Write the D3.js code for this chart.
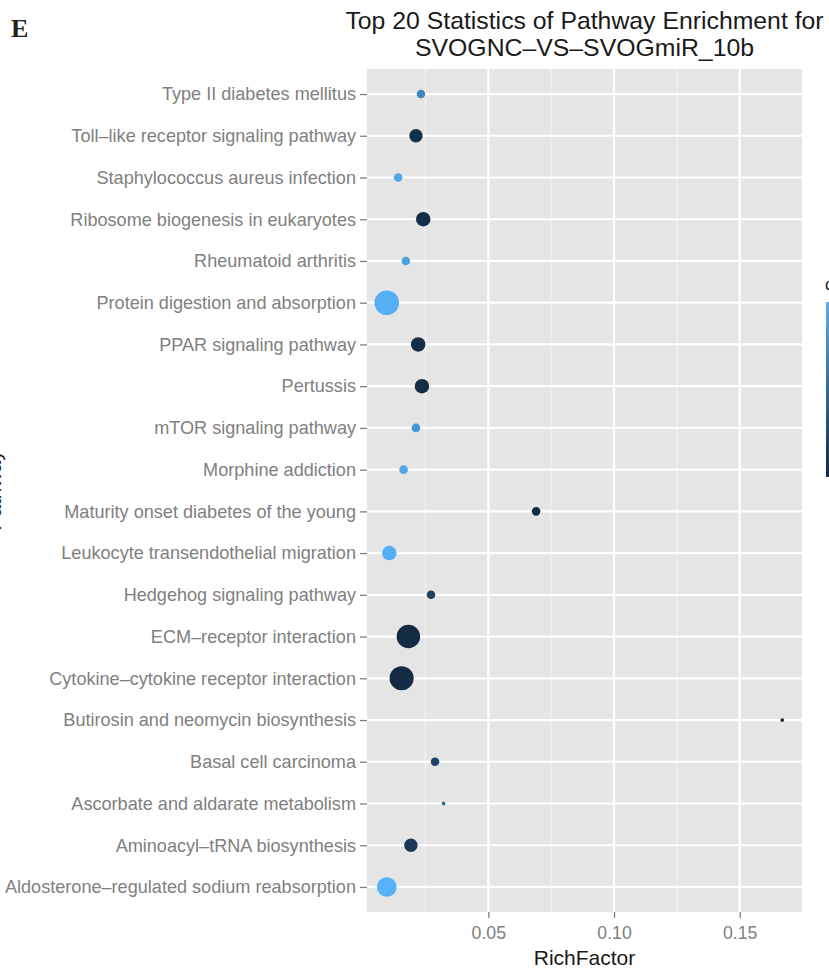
<!DOCTYPE html>
<html>
<head>
<meta charset="utf-8">
<script src="https://cdn.jsdelivr.net/npm/d3@7"></script>
<style>
  html, body { margin: 0; padding: 0; background: #ffffff; overflow: hidden; }
  svg { display: block; font-family: "Liberation Sans", Arial, Helvetica, sans-serif; }
</style>
</head>
<body>
<svg id="chart" width="829" height="971"></svg>
<script>
// KEGG pathways, listed top to bottom as drawn
const pathways = [
  "Type II diabetes mellitus",
  "Toll\u2013like receptor signaling pathway",
  "Staphylococcus aureus infection",
  "Ribosome biogenesis in eukaryotes",
  "Rheumatoid arthritis",
  "Protein digestion and absorption",
  "PPAR signaling pathway",
  "Pertussis",
  "mTOR signaling pathway",
  "Morphine addiction",
  "Maturity onset diabetes of the young",
  "Leukocyte transendothelial migration",
  "Hedgehog signaling pathway",
  "ECM\u2013receptor interaction",
  "Cytokine\u2013cytokine receptor interaction",
  "Butirosin and neomycin biosynthesis",
  "Basal cell carcinoma",
  "Ascorbate and aldarate metabolism",
  "Aminoacyl\u2013tRNA biosynthesis",
  "Aldosterone\u2013regulated sodium reabsorption"
];

// Rich factor of each pathway
const richFactor = [
  0.0232, 0.0212, 0.0141, 0.0241, 0.0172,
  0.0096, 0.0221, 0.0236, 0.0212, 0.0163,
  0.0690, 0.0106, 0.0272, 0.0182, 0.0155,
  0.1669, 0.0288, 0.0322, 0.0192, 0.0096
];

// Number of differentially expressed genes in each pathway
const geneNumber = [
  2, 5, 2, 6, 2,
  20, 6, 6, 2, 2,
  2, 6, 2, 18, 19,
  1, 2, 1, 5, 12
];

// Q value of each pathway
const qvalue = [
  0.52, 0.30, 0.60, 0.30, 0.59,
  0.62, 0.30, 0.295, 0.56, 0.60,
  0.29, 0.62, 0.35, 0.29, 0.29,
  0.30, 0.36, 0.48, 0.33, 0.625
];

// X axis tick values
const xTicks = [0.05, 0.10, 0.15];
const xMinorTicks = [0.025, 0.075, 0.125];

const titleLines = [
  "Top 20 Statistics of Pathway Enrichment for",
  "SVOGNC\u2013VS\u2013SVOGmiR_10b"
];

const data = pathways.map((p, i) => ({
  pathway: p,
  rf: richFactor[i],
  genes: geneNumber[i],
  q: qvalue[i]
}));

const svg = d3.select("#chart");
const sans = "'Liberation Sans', Arial, Helvetica, sans-serif";

// Panel geometry
const panel = { left: 367, right: 802, top: 69, bottom: 912 };

// X scale with 5% expansion on each side of the data range
const ext = d3.extent(richFactor);
const pad = (ext[1] - ext[0]) * 0.05;
const x = d3.scaleLinear()
  .domain([ext[0] - pad, ext[1] + pad])
  .range([panel.left, panel.right]);

// Discrete Y scale
const y = d3.scalePoint()
  .domain(pathways)
  .range([panel.top, panel.bottom])
  .padding(0.6);

// Point size: area-style mapping of gene number
const gExt = d3.extent(geneNumber);
const rMin = 1.9, rMax = 12.3;
const radius = n => rMin + (rMax - rMin) * Math.sqrt((n - gExt[0]) / (gExt[1] - gExt[0]));

// Colour: low q dark navy, high q light blue
const qExt = d3.extent(qvalue);
const colour = d3.scaleLinear()
  .domain(qExt)
  .range(["#132B43", "#56B1F7"])
  .interpolate(d3.interpolateLab);

// Panel background
svg.append("rect")
  .attr("x", panel.left)
  .attr("y", panel.top)
  .attr("width", panel.right - panel.left)
  .attr("height", panel.bottom - panel.top)
  .attr("fill", "#E5E5E5");

// Minor vertical grid lines
svg.append("g")
  .selectAll("line")
  .data(xMinorTicks)
  .join("line")
  .attr("x1", d => x(d)).attr("x2", d => x(d))
  .attr("y1", panel.top).attr("y2", panel.bottom)
  .attr("stroke", "#F2F2F2")
  .attr("stroke-width", 1.2);

// Major vertical grid lines
svg.append("g")
  .selectAll("line")
  .data(xTicks)
  .join("line")
  .attr("x1", d => x(d)).attr("x2", d => x(d))
  .attr("y1", panel.top).attr("y2", panel.bottom)
  .attr("stroke", "#FFFFFF")
  .attr("stroke-width", 2.2);

// Horizontal grid lines at each pathway
svg.append("g")
  .selectAll("line")
  .data(pathways)
  .join("line")
  .attr("x1", panel.left).attr("x2", panel.right)
  .attr("y1", d => y(d)).attr("y2", d => y(d))
  .attr("stroke", "#FFFFFF")
  .attr("stroke-width", 2.2);

// Points
svg.append("g")
  .selectAll("circle")
  .data(data)
  .join("circle")
  .attr("cx", d => x(d.rf))
  .attr("cy", d => y(d.pathway))
  .attr("r", d => radius(d.genes))
  .attr("fill", d => colour(d.q));

// Y axis
const yAxis = d3.axisLeft(y).tickSize(7).tickPadding(4);
const yG = svg.append("g")
  .attr("transform", `translate(${panel.left},0)`)
  .call(yAxis);
yG.select(".domain").remove();
yG.selectAll(".tick line").attr("stroke", "#7F7F7F").attr("stroke-width", 1.3);
yG.selectAll(".tick text")
  .attr("fill", "#808080")
  .style("font-size", "18.1px")
  .style("font-family", sans);

// X axis
const xAxis = d3.axisBottom(x)
  .tickValues(xTicks)
  .tickFormat(d3.format(".2f"))
  .tickSize(6)
  .tickPadding(8);
const xG = svg.append("g")
  .attr("transform", `translate(0,${panel.bottom})`)
  .call(xAxis);
xG.select(".domain").remove();
xG.selectAll(".tick line").attr("stroke", "#7F7F7F").attr("stroke-width", 1.3);
xG.selectAll(".tick text")
  .attr("fill", "#808080")
  .style("font-size", "17.7px")
  .style("font-family", sans);

// X axis title
svg.append("text")
  .attr("x", (panel.left + panel.right) / 2)
  .attr("y", 965)
  .attr("text-anchor", "middle")
  .style("font-size", "21px")
  .style("font-family", sans)
  .attr("fill", "#1a1a1a")
  .text("RichFactor");

// Y axis title (runs off the left edge)
svg.append("text")
  .attr("transform", `translate(1,${(panel.top + panel.bottom) / 2}) rotate(-90)`)
  .attr("text-anchor", "middle")
  .style("font-size", "21px")
  .style("font-family", sans)
  .attr("fill", "#1a1a1a")
  .text("Pathway");

// Title
svg.append("g")
  .selectAll("text")
  .data(titleLines)
  .join("text")
  .attr("x", (panel.left + panel.right) / 2)
  .attr("y", (d, i) => 29 + i * 27)
  .attr("text-anchor", "middle")
  .style("font-size", "24.8px")
  .style("font-family", sans)
  .attr("fill", "#1a1a1a")
  .text(d => d);

// Panel letter
svg.append("text")
  .attr("x", 11)
  .attr("y", 37)
  .style("font-family", "'Liberation Serif', 'Times New Roman', serif")
  .style("font-weight", "bold")
  .style("font-size", "26px")
  .attr("fill", "#222222")
  .text("E");

// Colour legend (mostly beyond the right edge)
const defs = svg.append("defs");
const grad = defs.append("linearGradient")
  .attr("id", "qgrad")
  .attr("x1", 0).attr("x2", 0).attr("y1", 1).attr("y2", 0);
d3.range(0, 1.0001, 0.1).forEach(t => {
  grad.append("stop")
    .attr("offset", t)
    .attr("stop-color", colour(qExt[0] + t * (qExt[1] - qExt[0])));
});
svg.append("text")
  .attr("x", 825)
  .attr("y", 290)
  .style("font-size", "17px")
  .style("font-family", sans)
  .attr("fill", "#1a1a1a")
  .text("qvalue");
svg.append("rect")
  .attr("x", 826)
  .attr("y", 302)
  .attr("width", 22)
  .attr("height", 175)
  .attr("fill", "url(#qgrad)");
</script>
</body>
</html>
